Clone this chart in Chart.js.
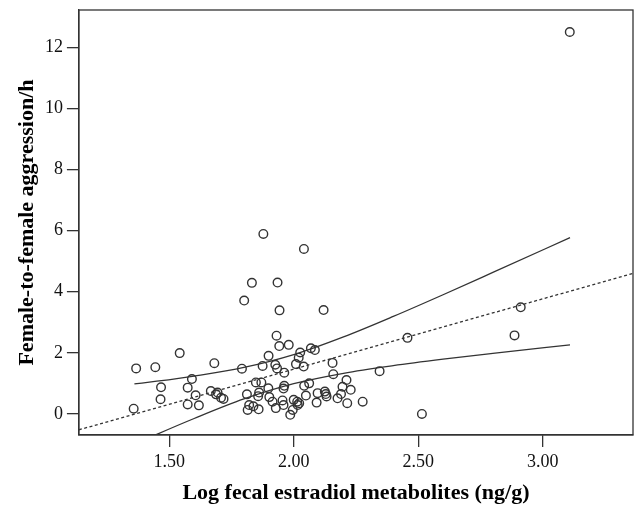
<!DOCTYPE html>
<html>
<head>
<meta charset="utf-8">
<script src="https://cdn.jsdelivr.net/npm/chart.js@4.4.1/dist/chart.umd.min.js"></script>
<style>
  html, body { margin: 0; padding: 0; background: #fff; }
  #wrap { width: 634px; height: 507px; position: relative; }
</style>
</head>
<body>
<div id="wrap"><canvas id="scatterChart"></canvas></div>
<script>
// 观测点: log 粪便雌二醇代谢物 (x) 与 雌性间攻击频率/h (y)
const estradiolLog = [
  1.357, 1.367, 1.444, 1.542, 1.681, 1.467, 1.465, 1.591, 1.574, 1.606,
  1.574, 1.619, 1.667, 1.688, 1.694, 1.708, 1.718, 1.792, 1.812, 1.815,
  1.821, 1.838, 1.859, 1.848, 1.870, 1.861, 1.857, 1.875, 1.899, 1.898,
  1.902, 1.915, 1.926, 1.933, 1.928, 1.942, 1.980, 1.931, 1.962, 1.962,
  1.959, 1.955, 1.959, 1.996, 1.986, 2.000, 2.014, 2.016, 2.022, 2.009,
  2.020, 2.026, 2.040, 2.069, 2.085, 2.042, 2.062, 2.049, 2.092, 2.096,
  2.125, 2.129, 2.132, 2.156, 2.159, 2.176, 2.190, 2.196, 2.212, 2.229,
  2.215, 2.277, 2.345, 2.457, 2.515, 2.887, 2.912, 3.109,
  1.878, 2.041, 1.832, 1.935, 1.801, 1.943, 2.120
];
const aggressionRate = [
  0.17, 1.49, 1.53, 1.99, 1.66, 0.87, 0.48, 1.14, 0.86, 0.61,
  0.31, 0.28, 0.75, 0.64, 0.70, 0.53, 0.49, 1.48, 0.64, 0.13,
  0.29, 0.25, 0.15, 1.03, 1.03, 0.70, 0.58, 1.57, 1.90, 0.84,
  0.55, 0.40, 1.61, 1.49, 0.19, 2.22, 2.26, 2.56, 1.35, 0.92,
  0.83, 0.44, 0.29, 0.13, -0.03, 0.46, 0.40, 0.29, 0.35, 1.63,
  1.84, 2.01, 1.55, 2.15, 2.09, 0.92, 1.00, 0.60, 0.37, 0.68,
  0.73, 0.65, 0.57, 1.67, 1.30, 0.51, 0.65, 0.89, 1.11, 0.79,
  0.35, 0.40, 1.40, 2.49, 0.00, 2.57, 3.49, 12.50,
  5.89, 5.40, 4.29, 4.30, 3.71, 3.39, 3.40
];

// 拟合直线 (虚线) 两端
const fitX = [1.137, 3.363];
const fitY = [-0.52, 4.60];

// 均值置信区间上下限 (实线)
const bandX     = [1.36, 1.45, 1.60, 1.80, 2.00, 2.20, 2.40, 2.60, 2.80, 3.11];
const bandUpper = [0.98, 1.07, 1.24, 1.52, 1.94, 2.52, 3.19, 3.90, 4.63, 5.77];
const bandLower = [-1.00, -0.67, -0.15, 0.49, 0.99, 1.33, 1.58, 1.79, 1.98, 2.26];

// 坐标轴刻度
const xTicks = [1.5, 2.0, 2.5, 3.0];
const yTicks = [0, 2, 4, 6, 8, 10, 12];
const xTitle = 'Log fecal estradiol metabolites (ng/g)';
const yTitle = 'Female-to-female aggression/h';

const serif = '"Liberation Serif", "Times New Roman", serif';
const ink = '#333333';

function toPoints(xs, ys) {
    return xs.map((x, i) => ({ x: x, y: ys[i] }));
}

// 画出四周的边框
const frameBox = {
    id: 'frameBox',
    afterDatasetsDraw(chart) {
        const a = chart.chartArea;
        const c = chart.ctx;
        c.save();
        c.strokeStyle = ink;
        c.lineWidth = 1.3;
        c.strokeRect(a.left, a.top, a.right - a.left, a.bottom - a.top);
        c.restore();
    }
};

const ctx = document.getElementById('scatterChart').getContext('2d');
new Chart(ctx, {
    type: 'scatter',
    data: {
        datasets: [{
            data: toPoints(estradiolLog, aggressionRate),
            pointStyle: 'circle',
            pointRadius: 4.3,
            pointBorderWidth: 1.4,
            borderColor: ink,
            backgroundColor: 'rgba(0,0,0,0)',
            order: 1
        },
        {
            type: 'line',
            data: toPoints(fitX, fitY),
            borderColor: ink,
            borderWidth: 1.3,
            borderDash: [3, 2.5],
            pointRadius: 0,
            fill: false,
            order: 2
        },
        {
            type: 'line',
            data: toPoints(bandX, bandUpper),
            borderColor: ink,
            borderWidth: 1.3,
            pointRadius: 0,
            cubicInterpolationMode: 'monotone',
            fill: false,
            order: 3
        },
        {
            type: 'line',
            data: toPoints(bandX, bandLower),
            borderColor: ink,
            borderWidth: 1.3,
            pointRadius: 0,
            cubicInterpolationMode: 'monotone',
            fill: false,
            order: 4
        }]
    },
    options: {
        responsive: true,
        maintainAspectRatio: false,
        animation: false,
        layout: { autoPadding: false, padding: { top: 10, right: 1, left: 14.5, bottom: 0 } },
        plugins: {
            legend: { display: false },
            tooltip: { enabled: false }
        },
        scales: {
            x: {
                type: 'linear',
                min: 1.137,
                max: 3.363,
                afterBuildTicks: axis => { axis.ticks = xTicks.map(v => ({ value: v })); },
                afterFit: axis => { axis.paddingLeft = 0; axis.paddingRight = 0; },
                grid: { drawOnChartArea: false, drawTicks: true, tickLength: 12, color: ink, lineWidth: 1.3 },
                border: { display: true, color: ink, width: 1.3 },
                ticks: {
                    color: '#111',
                    font: { family: serif, size: 18 },
                    padding: 4,
                    maxRotation: 0,
                    callback: v => Number(v).toFixed(2)
                },
                title: {
                    display: true,
                    text: xTitle,
                    color: '#000',
                    font: { family: serif, size: 22, weight: 'bold' },
                    padding: { top: 4, bottom: 0 }
                }
            },
            y: {
                type: 'linear',
                min: -0.69,
                max: 13.22,
                afterBuildTicks: axis => { axis.ticks = yTicks.map(v => ({ value: v })); },
                afterFit: axis => { axis.paddingTop = 0; axis.paddingBottom = 0; },
                grid: { drawOnChartArea: false, drawTicks: true, tickLength: 12, color: ink, lineWidth: 1.3 },
                border: { display: true, color: ink, width: 1.3 },
                ticks: {
                    color: '#111',
                    font: { family: serif, size: 18 },
                    padding: 4
                },
                title: {
                    display: true,
                    text: yTitle,
                    color: '#000',
                    font: { family: serif, size: 22, weight: 'bold' },
                    padding: { top: 0, bottom: 0 }
                }
            }
        }
    },
    plugins: [frameBox]
});
</script>
</body>
</html>
